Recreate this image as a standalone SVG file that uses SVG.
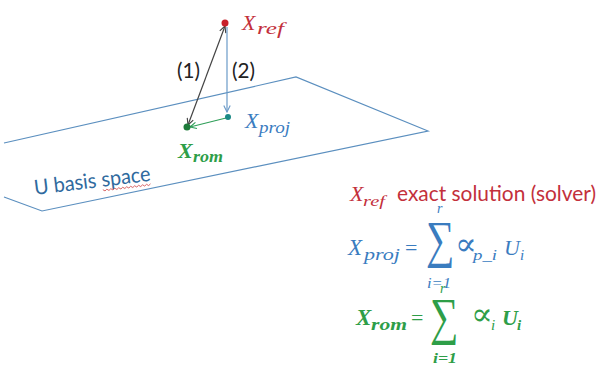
<svg xmlns="http://www.w3.org/2000/svg" width="597" height="371" viewBox="0 0 597 371">
<style>
.m{font-family:"Liberation Serif","DejaVu Serif",serif;font-style:italic}
.s{font-family:Lato,"Liberation Sans",sans-serif}
.sym{font-family:"Liberation Serif","DejaVu Serif",serif;font-style:normal}
.red{fill:#c3303b}
.blue{fill:#3a7cbf}
.green{fill:#2e9e48}
.b{font-weight:bold}
.plane{fill:none;stroke:#5b8fbf;stroke-width:1.2}
</style>
<defs>
<marker id="aDark" viewBox="0 0 10 10" refX="9" refY="5" markerWidth="8" markerHeight="8" orient="auto-start-reverse" markerUnits="userSpaceOnUse"><path d="M1,1 L9,5 L1,9" fill="none" stroke="#444" stroke-width="1.4"/></marker>
<marker id="aBlue" viewBox="0 0 10 10" refX="9" refY="5" markerWidth="8" markerHeight="8" orient="auto" markerUnits="userSpaceOnUse"><path d="M1,1 L9,5 L1,9" fill="none" stroke="#6a9ac8" stroke-width="1.4"/></marker>
<marker id="aGreen" viewBox="0 0 10 10" refX="9" refY="5" markerWidth="8" markerHeight="8" orient="auto" markerUnits="userSpaceOnUse"><path d="M1,1 L9,5 L1,9" fill="none" stroke="#2e9e58" stroke-width="1.4"/></marker>
</defs>
<rect width="597" height="371" fill="#fff"/>
<g id="plane">
<polyline class="plane" points="4,143 296,77 428,131 42,211 4,197"/>
<g transform="rotate(-7 35 195)">
<text class="s" x="35" y="195" font-size="21" fill="#2f6a9e" textLength="117" lengthAdjust="spacingAndGlyphs">U basis space</text>
<path d="M103,198 l2,1.5 l2,-1.5 l2,1.5 l2,-1.5 l2,1.5 l2,-1.5 l2,1.5 l2,-1.5 l2,1.5 l2,-1.5 l2,1.5 l2,-1.5 l2,1.5 l2,-1.5 l2,1.5 l2,-1.5 l2,1.5 l2,-1.5 l2,1.5 l2,-1.5 l2,1.5 l2,-1.5 l2,1.5 l2,-1.5" fill="none" stroke="#d04a4a" stroke-width="0.8"/>
</g>
</g>
<g id="connectors">
<line x1="225" y1="26" x2="188" y2="125" stroke="#444" stroke-width="1.2" marker-start="url(#aDark)" marker-end="url(#aDark)"/>
<line x1="227" y1="27" x2="227" y2="112" stroke="#6a9ac8" stroke-width="1.2" marker-end="url(#aBlue)"/>
<line x1="226" y1="118" x2="190" y2="127" stroke="#2e9e58" stroke-width="1.2" marker-end="url(#aGreen)"/>
<text class="s" x="177" y="78" font-size="21" fill="#222" textLength="23" lengthAdjust="spacingAndGlyphs">(1)</text>
<text class="s" x="232" y="78" font-size="21" fill="#222" textLength="23" lengthAdjust="spacingAndGlyphs">(2)</text>
</g>
<g id="xref">
<circle cx="225" cy="23" r="3.5" fill="#c8202a"/>
<text class="m red" x="242" y="30" font-size="22">X</text>
<text class="m red" x="257" y="34" font-size="16" textLength="27" lengthAdjust="spacingAndGlyphs">ref</text>
</g>
<g id="xproj">
<circle cx="228" cy="117" r="3" fill="#1b8a86"/>
<text class="m blue" x="245" y="128" font-size="22">X</text>
<text class="m blue" x="259" y="133" font-size="16" textLength="31" lengthAdjust="spacingAndGlyphs">proj</text>
</g>
<g id="xrom">
<circle cx="187" cy="127" r="3.5" fill="#1e7b3a"/>
<text class="m green b" x="178" y="158" font-size="22">X</text>
<text class="m green b" x="193" y="162" font-size="16" textLength="30" lengthAdjust="spacingAndGlyphs">rom</text>
</g>
<g id="legend">
<text class="m red" x="350" y="201" font-size="22">X</text>
<text class="m red" x="363" y="206" font-size="15" textLength="22" lengthAdjust="spacingAndGlyphs">ref</text>
<text class="s red" x="397" y="201" font-size="21" textLength="199" lengthAdjust="spacingAndGlyphs">exact solution (solver)</text>
</g>
<g id="eq-proj">
<text class="m blue" x="348" y="255" font-size="23">X</text>
<text class="m blue" x="364" y="260" font-size="16" textLength="36" lengthAdjust="spacingAndGlyphs">proj</text>
<text class="blue sym" x="405" y="255" font-size="22">=</text>
<text class="blue sym" transform="translate(426 257) scale(1 1.3)" x="0" y="0" font-size="40">∑</text>
<text class="m blue" x="437" y="213" font-size="14">r</text>
<text class="m blue" x="427" y="288" font-size="15" textLength="24" lengthAdjust="spacingAndGlyphs">i=1</text>
<text class="blue sym" x="455" y="255" font-size="32">∝</text>
<text class="m blue" x="473" y="260" font-size="15" textLength="24" lengthAdjust="spacingAndGlyphs">p_i</text>
<text class="m blue" x="504" y="255" font-size="22">U</text>
<text class="m blue" x="520" y="260" font-size="15">i</text>
</g>
<g id="eq-rom">
<text class="m green b" x="356" y="325" font-size="23">X</text>
<text class="m green b" x="371" y="330" font-size="16" textLength="36" lengthAdjust="spacingAndGlyphs">rom</text>
<text class="green sym" x="411" y="325" font-size="22">=</text>
<text class="green sym" transform="translate(430 334) scale(1 1.3)" x="0" y="0" font-size="40">∑</text>
<text class="m green" x="440" y="293" font-size="14">r</text>
<text class="m green b" x="433" y="363" font-size="15" textLength="24" lengthAdjust="spacingAndGlyphs">i=1</text>
<text class="green sym" x="471" y="325" font-size="32">∝</text>
<text class="m green" x="491" y="330" font-size="15">i</text>
<text class="m green b" x="502" y="325" font-size="22">U</text>
<text class="m green b" x="517" y="330" font-size="15">i</text>
</g>
</svg>
